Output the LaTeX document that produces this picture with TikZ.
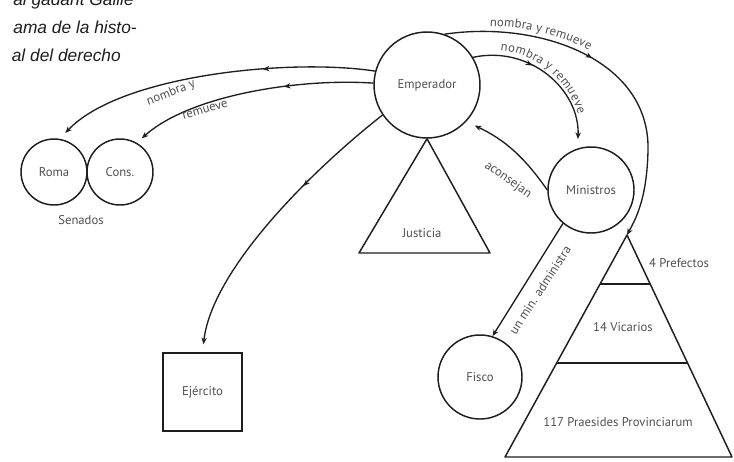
\documentclass[tikz,border=0pt]{standalone}
\usepackage{fontspec}
\setmainfont{PT Sans}
\newfontfamily\capfont{Liberation Sans}
\usetikzlibrary{arrows.meta, calc, decorations.markings, decorations.text}

\definecolor{ink}{RGB}{30,30,30}
\definecolor{lblgray}{RGB}{80,80,80}
\newcommand{\lblfont}{\fontsize{9.5}{11}\selectfont}

\tikzset{
  >={Stealth[length=5pt, width=4pt]}, % small filled tips
  seat/.style={circle, draw=ink, line width=1.1pt, inner sep=0pt, text=lblgray, font=\lblfont}, % circles of the diagram
  boxed/.style={rectangle, draw=ink, line width=1.1pt, inner sep=0pt, text=lblgray, font=\lblfont}, % the square
  outline/.style={draw=ink, line width=1.1pt, line join=round}, % triangles
  tag/.style={text=lblgray, font=\lblfont, inner sep=1pt}, % free labels
  rel/.style={->, draw=ink, line width=1pt, shorten >=6pt}, % the relations
  midarrow/.style={postaction={decorate, decoration={markings, mark=at position #1 with {\arrow{Stealth[length=5pt, width=4pt]}}}}},
  along/.style 2 args={postaction={decorate, decoration={text along path, text={|\lblfont\color{lblgray}|#1}, text align={left indent=#2}, raise=4pt}}},
  capline/.style={font=\capfont\itshape\fontsize{13}{15}\selectfont, text=ink, inner sep=0pt},
}

\begin{document}
\begin{tikzpicture}[x=0.75pt, y=-0.75pt]
\useasboundingbox[fill=white] (0,0) rectangle (734,461);

% caption of the book
\node[capline, anchor=base east] (cap1) at (134,5) {al gadant Gallie};
\node[capline, anchor=base east] (cap2) at (137,33) {ama de la histo-};
\node[capline, anchor=base east] (cap3) at (121,61) {al del derecho};

% offices
\node[seat, minimum size=79.5pt] (emp) at (427,85) {Emperador};
\node[seat, minimum size=64.5pt] (min) at (591,190) {Ministros};
\node[seat, minimum size=63pt] (fisco) at (480,377) {Fisco};
\node[seat, minimum size=49.5pt] (roma) at (54,172) {Roma};
\node[seat, minimum size=49.5pt] (cons) at (120,172) {Cons.};
\node[tag] (sen) at (81,220) {Senados};
\node[boxed, minimum width=59pt, minimum height=58.5pt] (ejer) at (202.5,392) {Ejército};

% justicia
\coordinate (jl) at (359,253);
\coordinate (jr) at (490,253);
\draw[outline] (emp.south) -- (jl) -- (jr) -- cycle;
\node[tag] (jus) at (422,233) {Justicia};

% pyramid of the provinces
\coordinate (ptop) at (627,235);
\coordinate (pl) at (505,457);
\coordinate (pr) at (732,457);
\draw[outline] (ptop) -- (pl) -- (pr) -- cycle;
\draw[outline] ($(ptop)!0.2207!(pl)$) -- ($(ptop)!0.2207!(pr)$);
\draw[outline] ($(ptop)!0.5766!(pl)$) -- ($(ptop)!0.5766!(pr)$);
\node[tag] (pref) at (679,263) {4 Prefectos};
\node[tag] (vic) at (623,327) {14 Vicarios};
\node[tag] (praes) at (618,422) {117 Praesides Provinciarum};

% relations
\draw[rel, shorten >=0pt, midarrow=0.43, along={nombra y remueve}{34pt}]
  (emp.71) .. controls (540,20) and (650,60) .. (648,150) .. controls (647,200) and (635,220) .. (ptop);
\draw[rel, shorten >=7pt, midarrow=0.38, along={nombra y remueve}{20pt}]
  (emp.31) .. controls (530,45) and (580,90) .. (min.108);
\draw[rel, midarrow=0.34] (emp.165) .. controls (290,58) and (120,75) .. (roma.80);
\draw[rel, shorten >=5pt, midarrow=0.36] (emp.178) .. controls (300,78) and (190,95) .. (cons.60);
\draw[rel, midarrow=0.35] (emp.214) .. controls (310,172) and (212,270) .. (ejer.north);
\draw[rel, shorten >=7pt] (min.180) to[bend right=15] (emp.-43);
\draw[rel, shorten >=0pt] (min.230) -- (fisco.73);

\node[tag, rotate=21] (nr1) at (171,93) {nombra y};
\node[tag, rotate=16] (nr2) at (205,110) {remueve};
\node[tag, rotate=-35] (acon) at (508,180) {aconsejan};
\node[tag, rotate=57] (adm) at (540,290) {un min. administra};
\end{tikzpicture}
\end{document}
